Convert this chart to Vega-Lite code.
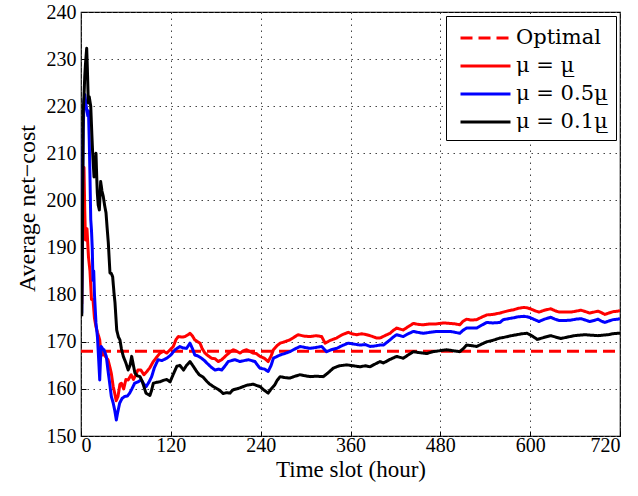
{
"$schema": "https://vega.github.io/schema/vega-lite/v6.json",
"autosize": {"type": "none"},
"padding": {"left": 81, "top": 12, "right": 18, "bottom": 60},
"width": 539,
"height": 424,
"background": "white",
"config": {
  "view": {"stroke": "black", "strokeWidth": 1.2},
  "font": "Liberation Serif, Times New Roman, serif",
  "axis": {"labelFont": "Liberation Serif, Times New Roman, serif", "labelFontSize": 20, "labelColor": "black", "titleFont": "Liberation Serif, Times New Roman, serif", "titleFontSize": 23, "titleFontWeight": "normal", "titleColor": "black", "domain": false, "ticks": true, "tickSize": -5, "tickColor": "black", "tickWidth": 1, "gridColor": "#444", "gridDash": [1.5, 4.5], "gridWidth": 1, "gridOpacity": 1},
  "legend": {"labelFont": "DejaVu Serif", "labelFontSize": 21, "labelColor": "black"}
},
"data": {"values": [
{"s":"opt","t":0,"v":168},{"s":"opt","t":720,"v":168},
{"s":"a","t":1,"v":178},{"s":"a","t":2,"v":195},{"s":"a","t":3,"v":206.5},{"s":"a","t":4,"v":207},{"s":"a","t":5,"v":198},{"s":"a","t":6,"v":191.6},{"s":"a","t":8,"v":194},{"s":"a","t":10,"v":188},{"s":"a","t":12,"v":185},{"s":"a","t":14,"v":179},{"s":"a","t":16,"v":179},{"s":"a","t":18,"v":175},{"s":"a","t":20,"v":173.2},{"s":"a","t":22,"v":172},{"s":"a","t":25,"v":170.4},{"s":"a","t":27,"v":167},{"s":"a","t":29,"v":167.6},{"s":"a","t":32,"v":167},{"s":"a","t":36,"v":166.2},{"s":"a","t":38,"v":165},{"s":"a","t":40.5,"v":163.3},{"s":"a","t":43,"v":160.5},{"s":"a","t":45,"v":159.1},{"s":"a","t":47,"v":157.5},{"s":"a","t":49.4,"v":158.4},{"s":"a","t":52,"v":161},{"s":"a","t":54,"v":161.2},{"s":"a","t":57,"v":160},{"s":"a","t":60,"v":162},{"s":"a","t":63,"v":161.9},{"s":"a","t":67,"v":163},{"s":"a","t":70,"v":162},{"s":"a","t":72,"v":162.6},{"s":"a","t":76,"v":164},{"s":"a","t":80,"v":164},{"s":"a","t":84,"v":163},{"s":"a","t":88,"v":163.7},{"s":"a","t":92,"v":164.5},{"s":"a","t":96.6,"v":165.8},{"s":"a","t":100,"v":166.5},{"s":"a","t":105.5,"v":167.6},{"s":"a","t":110,"v":168},{"s":"a","t":114.5,"v":167.6},{"s":"a","t":119,"v":168.3},{"s":"a","t":123.3,"v":169},{"s":"a","t":127,"v":170.5},{"s":"a","t":130,"v":171.1},{"s":"a","t":135,"v":171},{"s":"a","t":139,"v":171.1},{"s":"a","t":143,"v":171.5},{"s":"a","t":145.6,"v":171.8},{"s":"a","t":149,"v":171.2},{"s":"a","t":152,"v":170.4},{"s":"a","t":156,"v":170},{"s":"a","t":159,"v":169.7},{"s":"a","t":162,"v":168.5},{"s":"a","t":165.6,"v":167.6},{"s":"a","t":170,"v":167},{"s":"a","t":174.6,"v":166.5},{"s":"a","t":179,"v":166.4},{"s":"a","t":183.4,"v":165.8},{"s":"a","t":188,"v":166.2},{"s":"a","t":194.6,"v":167.2},{"s":"a","t":199,"v":167.8},{"s":"a","t":203.4,"v":168.3},{"s":"a","t":208,"v":168},{"s":"a","t":212.4,"v":167.6},{"s":"a","t":217,"v":168.1},{"s":"a","t":221.3,"v":168.3},{"s":"a","t":226,"v":167.9},{"s":"a","t":230,"v":167.6},{"s":"a","t":234,"v":167.5},{"s":"a","t":239,"v":166.9},{"s":"a","t":245,"v":166.5},{"s":"a","t":250,"v":165.8},{"s":"a","t":254,"v":167},{"s":"a","t":257,"v":168.3},{"s":"a","t":262,"v":169.2},{"s":"a","t":266,"v":169.7},{"s":"a","t":272,"v":170},{"s":"a","t":279,"v":170.4},{"s":"a","t":285,"v":171},{"s":"a","t":290,"v":171.5},{"s":"a","t":298,"v":171.2},{"s":"a","t":306,"v":171.1},{"s":"a","t":314,"v":171.3},{"s":"a","t":321.5,"v":171.1},{"s":"a","t":326,"v":169.7},{"s":"a","t":333,"v":170.3},{"s":"a","t":341.5,"v":170.8},{"s":"a","t":349,"v":171.5},{"s":"a","t":357,"v":172},{"s":"a","t":362,"v":171.7},{"s":"a","t":368,"v":171.5},{"s":"a","t":375,"v":171.7},{"s":"a","t":381.6,"v":171.5},{"s":"a","t":388,"v":171.2},{"s":"a","t":395,"v":170.8},{"s":"a","t":399.4,"v":170.8},{"s":"a","t":406,"v":171.3},{"s":"a","t":412.8,"v":171.8},{"s":"a","t":417,"v":172.4},{"s":"a","t":421.7,"v":172.9},{"s":"a","t":426,"v":172.7},{"s":"a","t":430.5,"v":172.5},{"s":"a","t":437,"v":173.2},{"s":"a","t":444,"v":173.9},{"s":"a","t":450,"v":173.7},{"s":"a","t":457,"v":173.6},{"s":"a","t":466,"v":173.8},{"s":"a","t":475,"v":173.8},{"s":"a","t":484,"v":174},{"s":"a","t":493,"v":173.9},{"s":"a","t":500,"v":173.8},{"s":"a","t":506,"v":173.6},{"s":"a","t":510,"v":174.3},{"s":"a","t":515,"v":174.8},{"s":"a","t":521,"v":174.6},{"s":"a","t":528.6,"v":174.7},{"s":"a","t":535,"v":175.2},{"s":"a","t":542,"v":175.7},{"s":"a","t":550,"v":175.8},{"s":"a","t":559.7,"v":176.1},{"s":"a","t":564,"v":176.3},{"s":"a","t":571,"v":176.6},{"s":"a","t":578,"v":176.8},{"s":"a","t":584,"v":177.1},{"s":"a","t":591.5,"v":177.3},{"s":"a","t":596,"v":177.2},{"s":"a","t":600.4,"v":177},{"s":"a","t":606,"v":176.6},{"s":"a","t":611.8,"v":176.3},{"s":"a","t":619,"v":176.7},{"s":"a","t":627.5,"v":177},{"s":"a","t":633,"v":176.6},{"s":"a","t":639,"v":176.3},{"s":"a","t":646,"v":176.3},{"s":"a","t":654.6,"v":176.3},{"s":"a","t":661,"v":176.5},{"s":"a","t":668,"v":176.7},{"s":"a","t":674,"v":176.4},{"s":"a","t":679.5,"v":176.1},{"s":"a","t":685,"v":176.3},{"s":"a","t":690.6,"v":176.5},{"s":"a","t":695,"v":176.2},{"s":"a","t":699.8,"v":175.8},{"s":"a","t":705,"v":176.1},{"s":"a","t":711,"v":176.4},{"s":"a","t":717,"v":176.5},{"s":"a","t":720,"v":176.6},
{"s":"b","t":1,"v":176},{"s":"b","t":2,"v":200},{"s":"b","t":3,"v":215},{"s":"b","t":4,"v":221},{"s":"b","t":5,"v":222.5},{"s":"b","t":7,"v":220},{"s":"b","t":9,"v":218},{"s":"b","t":10,"v":219},{"s":"b","t":11,"v":213},{"s":"b","t":12,"v":205},{"s":"b","t":13,"v":196},{"s":"b","t":14,"v":193.7},{"s":"b","t":15,"v":190},{"s":"b","t":16,"v":183},{"s":"b","t":17,"v":185},{"s":"b","t":18,"v":180},{"s":"b","t":20,"v":174},{"s":"b","t":22,"v":171},{"s":"b","t":23,"v":168},{"s":"b","t":24,"v":165},{"s":"b","t":25,"v":161.9},{"s":"b","t":26,"v":166},{"s":"b","t":27,"v":169},{"s":"b","t":29,"v":168.5},{"s":"b","t":30.7,"v":168.3},{"s":"b","t":33.8,"v":166.9},{"s":"b","t":36,"v":164},{"s":"b","t":38.3,"v":161.2},{"s":"b","t":40.5,"v":158.4},{"s":"b","t":43,"v":157},{"s":"b","t":45,"v":155.5},{"s":"b","t":47.2,"v":153.4},{"s":"b","t":49,"v":155},{"s":"b","t":51.7,"v":157},{"s":"b","t":55,"v":158},{"s":"b","t":58.4,"v":158.4},{"s":"b","t":62,"v":158.5},{"s":"b","t":65,"v":159.1},{"s":"b","t":68,"v":160},{"s":"b","t":71.7,"v":161.2},{"s":"b","t":76,"v":161.5},{"s":"b","t":80.6,"v":161.9},{"s":"b","t":84,"v":161},{"s":"b","t":87.2,"v":160.5},{"s":"b","t":91,"v":161.5},{"s":"b","t":94.4,"v":162.6},{"s":"b","t":98,"v":164.5},{"s":"b","t":103,"v":166.2},{"s":"b","t":108,"v":166},{"s":"b","t":114.5,"v":166.5},{"s":"b","t":120,"v":167.2},{"s":"b","t":125.6,"v":168.3},{"s":"b","t":132,"v":169},{"s":"b","t":136,"v":168.7},{"s":"b","t":141,"v":168.6},{"s":"b","t":145.6,"v":169.7},{"s":"b","t":149,"v":168.5},{"s":"b","t":152,"v":167.2},{"s":"b","t":156,"v":167},{"s":"b","t":161,"v":166.5},{"s":"b","t":165,"v":166},{"s":"b","t":168,"v":165.5},{"s":"b","t":174,"v":164.6},{"s":"b","t":179,"v":164},{"s":"b","t":184,"v":164.2},{"s":"b","t":188,"v":164},{"s":"b","t":192,"v":164.8},{"s":"b","t":196.7,"v":165.8},{"s":"b","t":201,"v":166},{"s":"b","t":205.7,"v":166.2},{"s":"b","t":212.4,"v":165.8},{"s":"b","t":218,"v":166},{"s":"b","t":223.4,"v":166.2},{"s":"b","t":228,"v":166},{"s":"b","t":232.4,"v":165.8},{"s":"b","t":236,"v":165},{"s":"b","t":239,"v":164.4},{"s":"b","t":245,"v":164.2},{"s":"b","t":250,"v":163.7},{"s":"b","t":254,"v":165},{"s":"b","t":257,"v":166.5},{"s":"b","t":262,"v":166.9},{"s":"b","t":266,"v":167.2},{"s":"b","t":272,"v":167.5},{"s":"b","t":279,"v":167.9},{"s":"b","t":286,"v":168.5},{"s":"b","t":292.5,"v":169},{"s":"b","t":299,"v":168.8},{"s":"b","t":306,"v":168.6},{"s":"b","t":314,"v":168.8},{"s":"b","t":321.5,"v":169},{"s":"b","t":328,"v":167.9},{"s":"b","t":334,"v":168.3},{"s":"b","t":341.5,"v":168.6},{"s":"b","t":349,"v":169.2},{"s":"b","t":357,"v":169.7},{"s":"b","t":365,"v":169.5},{"s":"b","t":372.7,"v":169.3},{"s":"b","t":380,"v":169.4},{"s":"b","t":386,"v":169},{"s":"b","t":392,"v":169.1},{"s":"b","t":399.4,"v":169.3},{"s":"b","t":404,"v":169.3},{"s":"b","t":412.8,"v":170.4},{"s":"b","t":417,"v":171},{"s":"b","t":421.7,"v":171.5},{"s":"b","t":426,"v":171.3},{"s":"b","t":430.5,"v":171.1},{"s":"b","t":437,"v":171.7},{"s":"b","t":444,"v":172.2},{"s":"b","t":450,"v":172},{"s":"b","t":457,"v":171.8},{"s":"b","t":466,"v":172},{"s":"b","t":475,"v":172.2},{"s":"b","t":484,"v":172.2},{"s":"b","t":493,"v":172.2},{"s":"b","t":500,"v":172},{"s":"b","t":506,"v":171.8},{"s":"b","t":510,"v":172.4},{"s":"b","t":515,"v":172.9},{"s":"b","t":521,"v":172.9},{"s":"b","t":528.6,"v":172.9},{"s":"b","t":535,"v":173.5},{"s":"b","t":542,"v":174.1},{"s":"b","t":550,"v":174},{"s":"b","t":559.7,"v":174.1},{"s":"b","t":564,"v":174.7},{"s":"b","t":571,"v":174.9},{"s":"b","t":578,"v":175.1},{"s":"b","t":584,"v":175.3},{"s":"b","t":591.5,"v":175.4},{"s":"b","t":596,"v":175.3},{"s":"b","t":600.4,"v":175.1},{"s":"b","t":606,"v":174.7},{"s":"b","t":611.8,"v":174.3},{"s":"b","t":619,"v":174.8},{"s":"b","t":627.5,"v":175.2},{"s":"b","t":633,"v":174.8},{"s":"b","t":639,"v":174.5},{"s":"b","t":646,"v":174.5},{"s":"b","t":654.6,"v":174.6},{"s":"b","t":661,"v":174.8},{"s":"b","t":668,"v":174.9},{"s":"b","t":674,"v":174.6},{"s":"b","t":679.5,"v":174.3},{"s":"b","t":685,"v":174.5},{"s":"b","t":690.6,"v":174.8},{"s":"b","t":695,"v":174.4},{"s":"b","t":699.8,"v":174.1},{"s":"b","t":705,"v":174.4},{"s":"b","t":711,"v":174.7},{"s":"b","t":717,"v":174.8},{"s":"b","t":720,"v":174.9},
{"s":"c","t":1,"v":175.4},{"s":"c","t":2,"v":195},{"s":"c","t":3,"v":219},{"s":"c","t":4,"v":222},{"s":"c","t":5,"v":226.3},{"s":"c","t":6,"v":229},{"s":"c","t":7.6,"v":232.3},{"s":"c","t":8.5,"v":228},{"s":"c","t":9.8,"v":220.7},{"s":"c","t":11,"v":222},{"s":"c","t":13,"v":220},{"s":"c","t":14.5,"v":214},{"s":"c","t":15.6,"v":210},{"s":"c","t":17.4,"v":205},{"s":"c","t":19,"v":207},{"s":"c","t":20,"v":210},{"s":"c","t":21,"v":205},{"s":"c","t":21.8,"v":201.6},{"s":"c","t":23,"v":199},{"s":"c","t":24.5,"v":198},{"s":"c","t":26.3,"v":204},{"s":"c","t":28,"v":202},{"s":"c","t":29.8,"v":200.8},{"s":"c","t":31.5,"v":199},{"s":"c","t":33.4,"v":197.4},{"s":"c","t":35,"v":194},{"s":"c","t":36.5,"v":191},{"s":"c","t":38.7,"v":184.6},{"s":"c","t":40.5,"v":184.5},{"s":"c","t":42.3,"v":183.8},{"s":"c","t":44,"v":180.5},{"s":"c","t":45.4,"v":178.3},{"s":"c","t":47.7,"v":172.5},{"s":"c","t":50,"v":171},{"s":"c","t":52,"v":170.4},{"s":"c","t":54,"v":168.5},{"s":"c","t":56.5,"v":166.9},{"s":"c","t":60,"v":165.5},{"s":"c","t":63,"v":164},{"s":"c","t":65.5,"v":165},{"s":"c","t":67.7,"v":166.9},{"s":"c","t":70,"v":165},{"s":"c","t":72,"v":163.4},{"s":"c","t":75,"v":162.8},{"s":"c","t":78.8,"v":162.6},{"s":"c","t":82,"v":161.5},{"s":"c","t":86.8,"v":159.1},{"s":"c","t":92,"v":158.6},{"s":"c","t":94,"v":159.5},{"s":"c","t":96.6,"v":161.2},{"s":"c","t":101,"v":161.4},{"s":"c","t":105.5,"v":161.5},{"s":"c","t":110,"v":161.8},{"s":"c","t":114.5,"v":162},{"s":"c","t":119,"v":161.5},{"s":"c","t":123,"v":163},{"s":"c","t":128,"v":164.8},{"s":"c","t":132,"v":165},{"s":"c","t":137,"v":164},{"s":"c","t":141,"v":165},{"s":"c","t":145.6,"v":165.8},{"s":"c","t":150,"v":164.8},{"s":"c","t":154.5,"v":163.7},{"s":"c","t":158,"v":163},{"s":"c","t":163,"v":162.5},{"s":"c","t":168,"v":161.6},{"s":"c","t":172,"v":161},{"s":"c","t":176.8,"v":160.5},{"s":"c","t":181,"v":160.1},{"s":"c","t":186,"v":159.6},{"s":"c","t":190,"v":159},{"s":"c","t":194,"v":159.2},{"s":"c","t":199,"v":159.1},{"s":"c","t":203,"v":159.8},{"s":"c","t":208,"v":160},{"s":"c","t":212,"v":160.2},{"s":"c","t":216.8,"v":160.5},{"s":"c","t":222,"v":160.8},{"s":"c","t":226,"v":160.9},{"s":"c","t":230,"v":161},{"s":"c","t":235,"v":160.7},{"s":"c","t":239,"v":160.5},{"s":"c","t":244,"v":159.8},{"s":"c","t":250,"v":159.1},{"s":"c","t":254,"v":160},{"s":"c","t":259,"v":160.9},{"s":"c","t":262,"v":161.8},{"s":"c","t":266,"v":162.6},{"s":"c","t":272,"v":162.4},{"s":"c","t":279,"v":162.3},{"s":"c","t":286,"v":162.7},{"s":"c","t":292.5,"v":163},{"s":"c","t":299,"v":162.8},{"s":"c","t":306,"v":162.6},{"s":"c","t":314,"v":162.7},{"s":"c","t":323.7,"v":162.6},{"s":"c","t":330,"v":163.4},{"s":"c","t":337,"v":164.4},{"s":"c","t":345,"v":164.9},{"s":"c","t":355,"v":165.1},{"s":"c","t":364,"v":164.9},{"s":"c","t":372.7,"v":164.7},{"s":"c","t":380,"v":164.9},{"s":"c","t":386,"v":164.7},{"s":"c","t":392,"v":165.2},{"s":"c","t":399.4,"v":165.8},{"s":"c","t":404,"v":165.5},{"s":"c","t":412,"v":166.2},{"s":"c","t":421.7,"v":166.9},{"s":"c","t":426,"v":166.7},{"s":"c","t":430.5,"v":166.5},{"s":"c","t":437,"v":167.2},{"s":"c","t":444,"v":167.9},{"s":"c","t":452,"v":167.7},{"s":"c","t":461.8,"v":167.5},{"s":"c","t":470,"v":167.9},{"s":"c","t":479,"v":168.1},{"s":"c","t":488.5,"v":168.3},{"s":"c","t":497,"v":168.1},{"s":"c","t":506,"v":167.9},{"s":"c","t":511,"v":168.6},{"s":"c","t":515,"v":169.3},{"s":"c","t":521,"v":169.2},{"s":"c","t":528.6,"v":169},{"s":"c","t":535,"v":169.5},{"s":"c","t":542,"v":170},{"s":"c","t":550,"v":170.3},{"s":"c","t":559.7,"v":170.8},{"s":"c","t":564,"v":170.9},{"s":"c","t":572,"v":171.2},{"s":"c","t":582,"v":171.5},{"s":"c","t":589,"v":171.7},{"s":"c","t":596,"v":171.8},{"s":"c","t":603,"v":171.2},{"s":"c","t":609.5,"v":170.5},{"s":"c","t":618,"v":170.9},{"s":"c","t":627.5,"v":171.3},{"s":"c","t":634,"v":171},{"s":"c","t":641,"v":170.7},{"s":"c","t":650,"v":171},{"s":"c","t":659,"v":171.3},{"s":"c","t":666,"v":171.4},{"s":"c","t":672.7,"v":171.5},{"s":"c","t":681,"v":171.4},{"s":"c","t":690.6,"v":171.3},{"s":"c","t":697,"v":171.4},{"s":"c","t":704,"v":171.5},{"s":"c","t":710,"v":171.7},{"s":"c","t":717,"v":171.8},{"s":"c","t":720,"v":171.8}
]},
"mark": {"type": "line", "strokeWidth": 3, "clip": true, "strokeJoin": "round"},
"encoding": {
  "x": {"field": "t", "type": "quantitative", "scale": {"domain": [0, 720], "nice": false}, "axis": {"values": [0, 120, 240, 360, 480, 600, 720], "title": "Time slot (hour)", "labelPadding": 4, "titlePadding": 3}},
  "y": {"field": "v", "type": "quantitative", "scale": {"domain": [150, 240], "nice": false, "zero": false}, "axis": {"values": [150, 160, 170, 180, 190, 200, 210, 220, 230, 240], "title": "Average net\u2212cost", "titleFontSize": 24, "titleY": 196, "labelPadding": 10, "titlePadding": 7}},
  "color": {"field": "s", "type": "nominal", "scale": {"domain": ["opt", "a", "b", "c"], "range": ["#ff0000", "#ff0000", "#0000ff", "#000000"]}, "legend": {"title": null, "orient": "top-right", "offset": 4, "fillColor": "white", "strokeColor": "black", "padding": 8, "symbolType": "M-0.6,0H3.4", "symbolSize": 625, "symbolStrokeWidth": 3, "rowPadding": 4, "labelOffset": 34, "labelExpr": "datum.value == 'opt' ? 'Optimal' : datum.value == 'a' ? '\u03bc = \u03bc\u0332' : datum.value == 'b' ? '\u03bc = 0.5\u03bc\u0332' : '\u03bc = 0.1\u03bc\u0332'"}},
  "strokeDash": {"field": "s", "type": "nominal", "scale": {"domain": ["opt", "a", "b", "c"], "range": [[12, 6], [1, 0], [1, 0], [1, 0]]}, "legend": {"title": null, "orient": "top-right", "offset": 4, "fillColor": "white", "strokeColor": "black", "padding": 8, "symbolType": "M-0.6,0H3.4", "symbolSize": 625, "symbolStrokeWidth": 3, "rowPadding": 4, "labelOffset": 34, "labelExpr": "datum.value == 'opt' ? 'Optimal' : datum.value == 'a' ? '\u03bc = \u03bc\u0332' : datum.value == 'b' ? '\u03bc = 0.5\u03bc\u0332' : '\u03bc = 0.1\u03bc\u0332'"}}
}
}
